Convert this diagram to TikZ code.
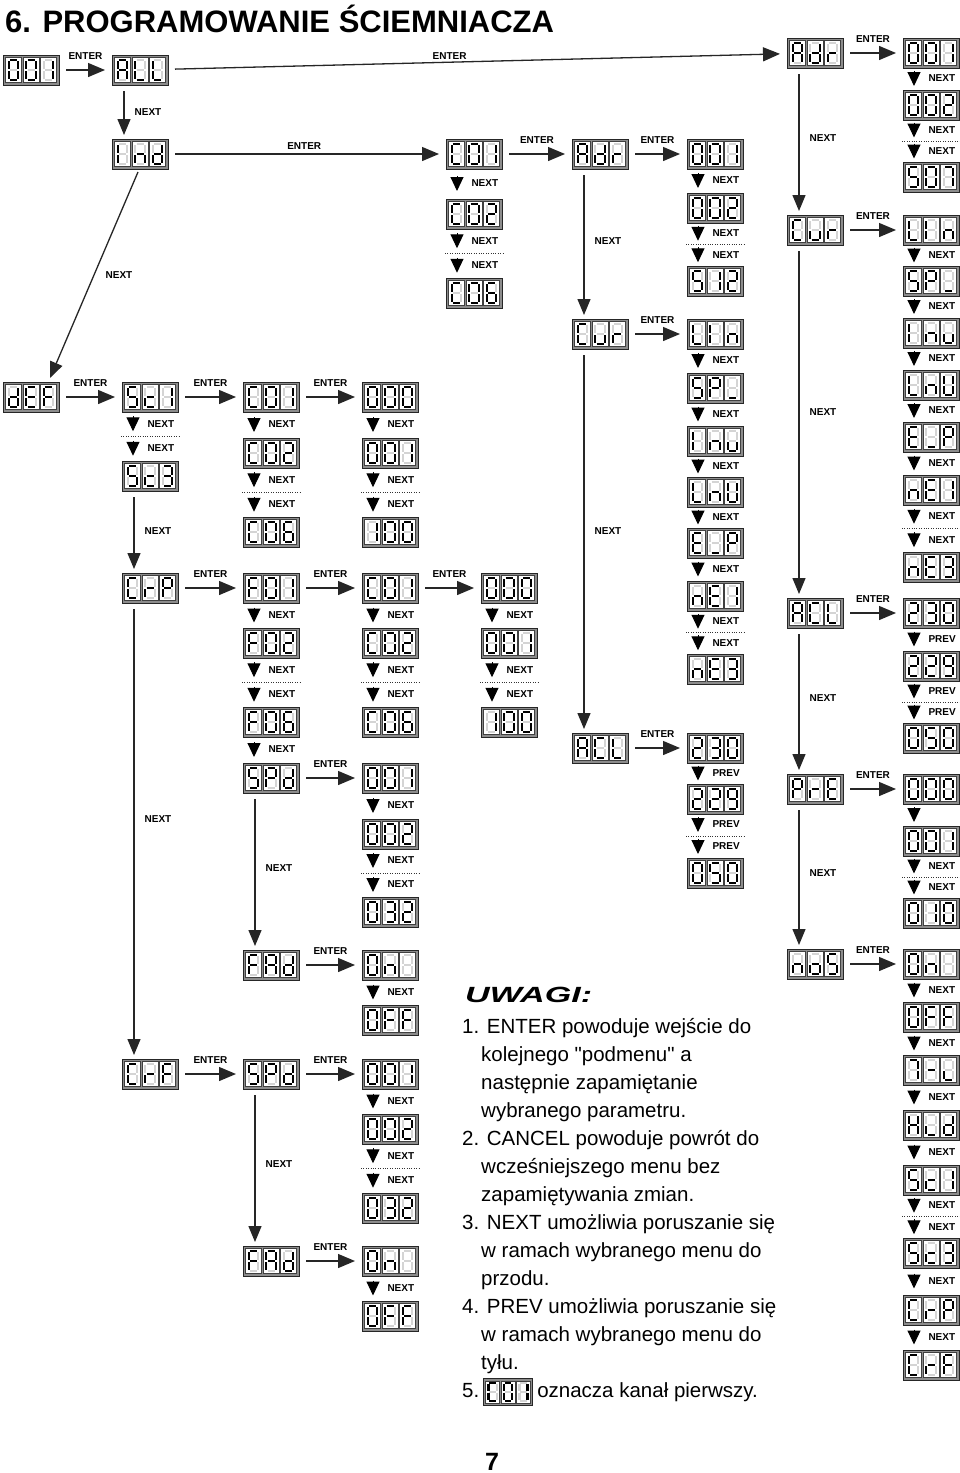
\documentclass[tikz,border=0pt]{standalone}
\usepackage{graphicx}
\usepackage{fontspec}
\setmainfont{Liberation Sans}[Ligatures=TeXOff]
\usetikzlibrary{arrows.meta,calc}

\makeatletter
% character -> lit segments
\def\defch#1#2{\expandafter\def\csname ch@#1\endcsname{#2}}
\defch{0}{a,b,c,d,e,f}
\defch{1}{b,c}
\defch{2}{a,b,g,e,d}
\defch{3}{a,b,g,c,d}
\defch{5}{a,f,g,c,d}
\defch{6}{a,f,g,e,c,d}
\defch{7}{a,b,c}
\defch{9}{a,b,c,d,f,g}
\defch{A}{a,b,c,e,f,g}
\defch{C}{a,f,e,d}
\defch{c}{g,e,d}
\defch{d}{b,c,d,e,g}
\defch{E}{a,f,g,e,d}
\defch{F}{a,f,g,e}
\defch{H}{b,c,e,f,g}
\defch{I}{e,f}
\defch{L}{f,e,d}
\defch{l}{e,d}
\defch{n}{e,g,c}
\defch{o}{c,d,e,g}
\defch{P}{a,b,f,g,e}
\defch{r}{e,g}
\defch{S}{a,f,g,c,d}
\defch{u}{e,d,c}
\defch{U}{b,c,d,e,f}
\defch{_}{d}
\defch{-}{g}
\defch{x}{}
% segment geometry
\def\defsg#1#2{\expandafter\def\csname sg@#1\endcsname##1{\draw[##1] #2;}}
\defsg{a}{(-3.5,-10)--(3.5,-10)}
\defsg{b}{(4.7,-9)--(4.7,-1.1)}
\defsg{c}{(4.7,1.1)--(4.7,9)}
\defsg{d}{(-3.5,10)--(3.5,10)}
\defsg{e}{(-4.7,1.1)--(-4.7,9)}
\defsg{f}{(-4.7,-9)--(-4.7,-1.1)}
\defsg{g}{(-3.5,0)--(3.5,0)}
\expandafter\def\csname sg@\endcsname#1{}
\newcommand\segdigit[2]{%
  \begin{scope}[shift={(#1,0)}]
    \draw[cellbox] (-8,-12.5) rectangle (8,12.5);
    \foreach \s in {a,b,c,d,e,f,g}{\csname sg@\s\endcsname{segoff}}
    \edef\seglist{\csname ch@#2\endcsname}%
    \foreach \s in \seglist {\csname sg@\s\endcsname{segon}}
  \end{scope}}
\def\dispchars#1#2#3\@nil{\segdigit{-17.6}{#1}\segdigit{0}{#2}\segdigit{17.6}{#3}}
\newcommand\disp[5][1]{%
  \begin{scope}[shift={(#3,#4)},scale=#1,transform shape]
    \node[dispbox] (#2) at (0,0) {};
    \dispchars#5\@nil
  \end{scope}}
\makeatother

\tikzset{
  dispbox/.style={rectangle, draw=black!85, fill=black!45, line width=1pt,
    minimum width=56pt, minimum height=30pt, inner sep=0pt, outer sep=0pt},
  cellbox/.style={draw=black!75, fill=white, line width=0.7pt},
  segon/.style={line width=2.3pt, draw=black},
  segoff/.style={line width=2.3pt, draw=black!17},
  lbl/.style={font=\bfseries\fontsize{10}{12}\selectfont, inner sep=1pt},
  entarr/.style={draw=black!85, line width=1.3pt, -{Triangle[length=17pt,width=14pt]},
    shorten <=7pt, shorten >=7pt},
  longarr/.style={draw=black!85, line width=1.3pt, -{Triangle[length=16pt,width=13pt]}},
  triarr/.style={draw=black, line width=1pt, -{Triangle[length=14pt,width=13pt]}},
  dotln/.style={draw=black!80, line width=0.8pt, dash pattern=on 0.8pt off 1.6pt},
}

\newcommand\ent[3][ENTER]{\draw[entarr] (#2) -- node[lbl, midway, above=9pt]{#1} (#3);}
\newcommand\nx[3][NEXT]{%
  \coordinate (tm) at ($(#2.south west)!0.5!(#3.north west)$);
  \draw[triarr] ($(tm)+(11,-8)$) -- node[lbl, midway, anchor=west, xshift=13pt]{#1} ($(tm)+(11,7)$);}
\newcommand\nxd[3][NEXT]{%
  \coordinate (dm) at ($(#2.south west)!0.5!(#3.north west)$);
  \coordinate (dma) at ($(#2.south west)!0.5!(dm)$);
  \coordinate (dmb) at ($(dm)!0.5!(#3.north west)$);
  \draw[dotln] ($(dm)+(-1,0)$) -- ($(dm)+(57,0)$);
  \draw[triarr] ($(dma)+(11,-8)$) -- node[lbl, midway, anchor=west, xshift=13pt]{#1} ($(dma)+(11,7)$);
  \draw[triarr] ($(dmb)+(11,-8)$) -- node[lbl, midway, anchor=west, xshift=13pt]{#1} ($(dmb)+(11,7)$);}
\newcommand\nxl[3][NEXT]{%
  \draw[longarr] ($(#2.south west)+(12,6)$) -- node[lbl, pos=0.47, anchor=west, xshift=9pt]{#1} ($(#3.north west)+(12,-4)$);}

\begin{document}
\begin{tikzpicture}[x=1pt,y=-1pt]
\fill[white] (0,0) rectangle (960,1473);
\useasboundingbox (0,0) rectangle (960,1473);

\node[anchor=base west, font=\bfseries\fontsize{31}{36}\selectfont, inner sep=0] (title) at (5,32) {6. PROGRAMOWANIE ŚCIEMNIACZA};

% ---------- displays ----------
\disp{d001}{31}{70}{001}
\disp{all}{140}{70}{ALL}
\disp{ind}{140}{154}{Ind}
% right block
\disp{radr}{815}{53}{Adr}
\disp{r001}{931}{53}{001}
\disp{r002}{931}{105}{002}
\disp{r507}{931}{177}{507}
\disp{rcur}{815}{230}{Cur}
\disp{rlin}{931}{230}{LIn}
\disp{rsp}{931}{281}{SP_}
\disp{rinu}{931}{333}{Inu}
\disp{rlnu}{931}{385}{LnU}
\disp{rep}{931}{437}{E_P}
\disp{rne1}{931}{490}{nE1}
\disp{rne3}{931}{567}{nE3}
\disp{racl}{815}{613}{ACL}
\disp{r230}{931}{613}{230}
\disp{r229}{931}{666}{229}
\disp{r050}{931}{738}{050}
\disp{rpre}{815}{789}{PrE}
\disp{r000}{931}{789}{000}
\disp{r001b}{931}{841}{001}
\disp{r010}{931}{913}{010}
\disp{rnos}{815}{964}{noS}
\disp{ron}{931}{964}{0nx}
\disp{roff}{931}{1017}{0FF}
\disp{r7l}{931}{1070}{7-l}
\disp{rhld}{931}{1125}{Hld}
\disp{rsc1}{931}{1180}{Sc1}
\disp{rsc3}{931}{1253}{Sc3}
\disp{rcrp}{931}{1310}{CrP}
\disp{rcrf}{931}{1365}{CrF}
% middle block
\disp{c01m}{474}{154}{C01}
\disp{c02m}{474}{214}{C02}
\disp{c06m}{474}{293}{C06}
\disp{madr}{600}{154}{Adr}
\disp{m001}{715}{154}{001}
\disp{m002}{715}{208}{002}
\disp{m512}{715}{281}{512}
\disp{mcur}{600}{334}{Cur}
\disp{mlin}{715}{334}{LIn}
\disp{msp}{715}{388}{SP_}
\disp{minu}{715}{441}{Inu}
\disp{mlnu}{715}{492}{LnU}
\disp{mep}{715}{543}{E_P}
\disp{mne1}{715}{596}{nE1}
\disp{mne3}{715}{669}{nE3}
\disp{macl}{600}{748}{ACL}
\disp{m230}{715}{748}{230}
\disp{m229}{715}{799}{229}
\disp{m050}{715}{873}{050}
% left block
\disp{def}{31}{397}{dEF}
\disp{sc1}{150}{397}{Sc1}
\disp{sc3}{150}{476}{Sc3}
\disp{crp}{150}{588}{CrP}
\disp{crf}{150}{1074}{CrF}
\disp{lc01}{271}{397}{C01}
\disp{lc02}{271}{453}{C02}
\disp{lc06}{271}{532}{C06}
\disp{l000}{390}{397}{000}
\disp{l001}{390}{453}{001}
\disp{l100}{390}{532}{100}
\disp{f01}{271}{588}{F01}
\disp{f02}{271}{643}{F02}
\disp{f06}{271}{722}{F06}
\disp{spda}{271}{778}{SPd}
\disp{fc01}{390}{588}{C01}
\disp{fc02}{390}{643}{C02}
\disp{fc06}{390}{722}{C06}
\disp{f000}{509}{588}{000}
\disp{f001}{509}{643}{001}
\disp{f100}{509}{722}{100}
\disp{s001}{390}{778}{001}
\disp{s002}{390}{834}{002}
\disp{s032}{390}{912}{032}
\disp{fada}{271}{965}{FAd}
\disp{fona}{390}{965}{0nx}
\disp{foffa}{390}{1020}{0FF}
\disp{spdb}{271}{1074}{SPd}
\disp{t001}{390}{1074}{001}
\disp{t002}{390}{1129}{002}
\disp{t032}{390}{1208}{032}
\disp{fadb}{271}{1261}{FAd}
\disp{fonb}{390}{1261}{0nx}
\disp{foffb}{390}{1316}{0FF}

% ---------- ENTER connectors ----------
\ent{d001}{all}
\draw[entarr] (all) -- node[lbl, pos=0.455, above=1pt]{ENTER} (radr);
\draw[entarr] (ind) -- node[lbl, pos=0.49, above=3pt]{ENTER} (c01m);
\ent{radr}{r001}
\ent{c01m}{madr}
\ent{madr}{m001}
\ent{mcur}{mlin}
\ent{macl}{m230}
\ent{rcur}{rlin}
\ent{racl}{r230}
\ent{rpre}{r000}
\ent{rnos}{ron}
\ent{def}{sc1}
\ent{sc1}{lc01}
\ent{lc01}{l000}
\ent{crp}{f01}
\ent{f01}{fc01}
\ent{fc01}{f000}
\ent{spda}{s001}
\ent{fada}{fona}
\ent{crf}{spdb}
\ent{spdb}{t001}
\ent{fadb}{fonb}

% ---------- long NEXT connectors ----------
\nxl{all}{ind}
\draw[longarr] ($(ind.south)+(-2,3)$) -- node[lbl, midway, anchor=west, xshift=10pt]{NEXT} ($(def.north east)+(-9,-4)$);
\nxl{radr}{rcur}
\nxl{rcur}{racl}
\nxl{racl}{rpre}
\nxl{rpre}{rnos}
\nxl{madr}{mcur}
\nxl{mcur}{macl}
\nxl{sc3}{crp}
\nxl{crp}{crf}
\nxl{spda}{fada}
\nxl{spdb}{fadb}

% ---------- short steps ----------
\nx{r001}{r002} \nxd{r002}{r507}
\nx{rlin}{rsp} \nx{rsp}{rinu} \nx{rinu}{rlnu} \nx{rlnu}{rep} \nx{rep}{rne1} \nxd{rne1}{rne3}
\nx[PREV]{r230}{r229} \nxd[PREV]{r229}{r050}
\nx[]{r000}{r001b} \nxd{r001b}{r010}
\nx{ron}{roff} \nx{roff}{r7l} \nx{r7l}{rhld} \nx{rhld}{rsc1} \nxd{rsc1}{rsc3} \nx{rsc3}{rcrp} \nx{rcrp}{rcrf}

\nx{c01m}{c02m} \nxd{c02m}{c06m}
\nx{m001}{m002} \nxd{m002}{m512}
\nx{mlin}{msp} \nx{msp}{minu} \nx{minu}{mlnu} \nx{mlnu}{mep} \nx{mep}{mne1} \nxd{mne1}{mne3}
\nx[PREV]{m230}{m229} \nxd[PREV]{m229}{m050}

\nxd{sc1}{sc3}
\nx{lc01}{lc02} \nxd{lc02}{lc06}
\nx{l000}{l001} \nxd{l001}{l100}
\nx{f01}{f02} \nxd{f02}{f06} \nx{f06}{spda}
\nx{fc01}{fc02} \nxd{fc02}{fc06}
\nx{f000}{f001} \nxd{f001}{f100}
\nx{s001}{s002} \nxd{s002}{s032}
\nx{fona}{foffa}
\nx{t001}{t002} \nxd{t002}{t032}
\nx{fonb}{foffb}

% ---------- notes ----------
\node[anchor=west, inner sep=0, font=\bfseries\itshape\fontsize{22}{24}\selectfont] (uwagi) at (465,995) {\scalebox{1.55}[1]{UWAGI:}};
\node[anchor=north west, align=left, inner sep=0, font=\fontsize{20.5}{28}\selectfont] (notes) at (462,1018) {%
1. ENTER powoduje wejście do\\
\hspace*{19pt}kolejnego "podmenu" a\\
\hspace*{19pt}następnie zapamiętanie\\
\hspace*{19pt}wybranego parametru.\\
2. CANCEL powoduje powrót do\\
\hspace*{19pt}wcześniejszego menu bez\\
\hspace*{19pt}zapamiętywania zmian.\\
3. NEXT umożliwia poruszanie się\\
\hspace*{19pt}w ramach wybranego menu do\\
\hspace*{19pt}przodu.\\
4. PREV umożliwia poruszanie się\\
\hspace*{19pt}w ramach wybranego menu do\\
\hspace*{19pt}tyłu.\\
5.\hspace*{58pt}oznacza kanał pierwszy.};
\disp[0.88]{c01n}{508}{1392}{C01}

\node[font=\bfseries\fontsize{25}{28}\selectfont] (pnum) at (492,1462) {7};
\end{tikzpicture}
\end{document}
